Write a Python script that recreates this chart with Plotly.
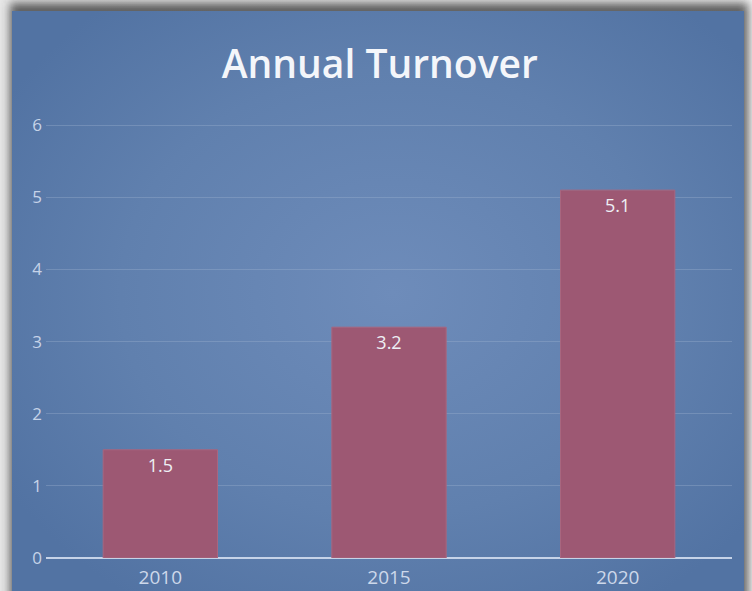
import base64
import plotly.graph_objects as go

years = ["2010", "2015", "2020"]
turnover = [1.5, 3.2, 5.1]
y_ticks = [0, 1, 2, 3, 4, 5, 6]

W, H = 752, 591
ML, MR, MT, MB = 46, 20, 118, 33
PW, PH = W - ML - MR, H - MT - MB

svg = f'''<svg xmlns="http://www.w3.org/2000/svg" width="{W}" height="{H}" viewBox="0 0 {W} {H}" preserveAspectRatio="none">
<defs>
<radialGradient id="g" cx="0.52" cy="0.47" r="0.62">
<stop offset="0" stop-color="#6e8cba"/>
<stop offset="0.6" stop-color="#6080ae"/>
<stop offset="1" stop-color="#5273a3"/>
</radialGradient>
<linearGradient id="bg" x1="0" y1="0" x2="1" y2="0">
<stop offset="0" stop-color="#e6e6e6"/>
<stop offset="1" stop-color="#f0f0f0"/>
</linearGradient>
<filter id="s" x="-10%" y="-10%" width="120%" height="120%">
<feGaussianBlur stdDeviation="5"/>
</filter>
</defs>
<rect x="0" y="0" width="{W}" height="{H}" fill="url(#bg)"/>
<rect x="10" y="3" width="738" height="620" fill="#2e2e2e" opacity="0.75" filter="url(#s)"/>
<rect x="12" y="11" width="732" height="600" fill="url(#g)"/>
</svg>'''
uri = "data:image/svg+xml;base64," + base64.b64encode(svg.encode()).decode()

fig = go.Figure()
fig.add_trace(go.Bar(
    x=years, y=turnover,
    text=[f"{v:.1f}" for v in turnover],
    textposition="inside", insidetextanchor="end",
    textfont=dict(color="#eef0f5", size=18, family="Open Sans"),
    marker=dict(color="#9d5873", line=dict(color="#a8667f", width=1)),
    width=0.5,
))

fig.update_layout(
    width=W, height=H,
    margin=dict(l=ML, r=MR, t=MT, b=MB, autoexpand=False),
    paper_bgcolor="#f0f0f0",
    plot_bgcolor="rgba(0,0,0,0)",
    images=[dict(source=uri, xref="paper", yref="paper", x=-ML / PW, y=1 + MT / PH,
                 sizex=W / PW, sizey=H / PH, xanchor="left", yanchor="top",
                 sizing="stretch", layer="below")],
    title=dict(text="Annual Turnover", x=0.505, xanchor="center",
               y=1 - 64 / H, yanchor="middle", yref="container",
               font=dict(family="Open Sans", size=39, weight=600, color="#f4f6fa")),
    showlegend=False,
    bargap=0.5,
)
fig.update_xaxes(showgrid=False, showline=False, ticks="", automargin=False,
                 tickfont=dict(family="Open Sans", size=19, color="#cdd8ea"),
                 ticklabelstandoff=6)
fig.update_yaxes(range=[0, 6.1], tickvals=y_ticks, showgrid=True, automargin=False,
                 gridcolor="rgba(160,180,210,0.35)", gridwidth=1,
                 zeroline=True, zerolinecolor="#c6d3e8", zerolinewidth=2,
                 showline=False, ticks="",
                 tickfont=dict(family="Open Sans", size=17, color="#c6d3e8"),
                 ticklabelstandoff=3)

fig.write_html("out.html", config={"displayModeBar": False},
               post_script="document.body.style.margin='0';document.body.style.overflow='hidden';")
